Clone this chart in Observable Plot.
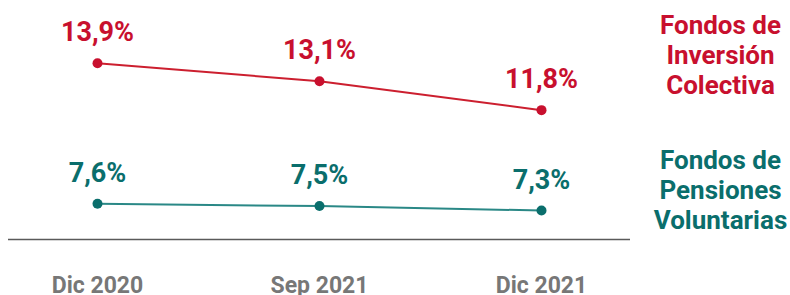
<!DOCTYPE html>
<html>
<head>
<meta charset="utf-8">
<script src="https://cdn.jsdelivr.net/npm/d3@7"></script>
<script src="https://cdn.jsdelivr.net/npm/@observablehq/plot@0.6"></script>
<style>
  html, body { margin: 0; padding: 0; background: #fff; }
  #chart svg { display: block; }
</style>
</head>
<body>
<div id="chart"></div>
<script>
const periods = ["Dic 2020", "Sep 2021", "Dic 2021"];
const inversion = [13.9, 13.1, 11.8];
const pensiones = [7.6, 7.5, 7.3];
const seriesKeys = ["inversion", "pensiones"];
const seriesLabels = ["Fondos de\nInversión\nColectiva", "Fondos de\nPensiones\nVoluntarias"];
const seriesColors = ["#c8102e", "#0a6e6c"];
const lineColors = ["#cc1f2f", "#2a8886"];

const data = [
  ...periods.map((p, i) => ({period: p, value: inversion[i], series: "inversion"})),
  ...periods.map((p, i) => ({period: p, value: pensiones[i], series: "pensiones"}))
];
const fmt = v => v.toFixed(1).replace(".", ",") + "%";

const chart = Plot.plot({
  width: 790,
  height: 295,
  marginLeft: 8,
  marginRight: 160,
  marginTop: 16,
  marginBottom: 56,
  style: {fontFamily: "Roboto, sans-serif", background: "#fff"},
  x: {type: "point", domain: periods, padding: 0.395, axis: null, label: null},
  y: {domain: [6, 16], axis: null},
  color: {domain: seriesKeys, range: seriesColors},
  marks: [
    Plot.ruleY([6], {stroke: "#5a5a5a", strokeWidth: 1.5}),
    Plot.axisX({tickSize: 0, tickPadding: 37, fontSize: 23, fontWeight: "bold", color: "#777", fill: "#777", label: null}),
    Plot.line(data, {x: "period", y: "value", z: "series", stroke: d => lineColors[seriesKeys.indexOf(d.series)], strokeWidth: 2}),
    Plot.dot(data, {x: "period", y: "value", fill: "series", r: 5}),
    Plot.text(data, {x: "period", y: "value", text: d => fmt(d.value), fill: "series", dy: -22, lineAnchor: "bottom", fontSize: 27, fontWeight: "bold"}),
    Plot.text([seriesLabels[0]], {text: d => d, frameAnchor: "top-right", dx: 90, dy: -4, lineAnchor: "top", textAnchor: "middle", fill: seriesColors[0], fontSize: 26, fontWeight: "bold", lineHeight: 1.15}),
    Plot.text([seriesLabels[1]], {text: d => d, frameAnchor: "top-right", dx: 90, dy: 131, lineAnchor: "top", textAnchor: "middle", fill: seriesColors[1], fontSize: 26, fontWeight: "bold", lineHeight: 1.15})
  ]
});
document.getElementById("chart").appendChild(chart);
</script>
</body>
</html>
